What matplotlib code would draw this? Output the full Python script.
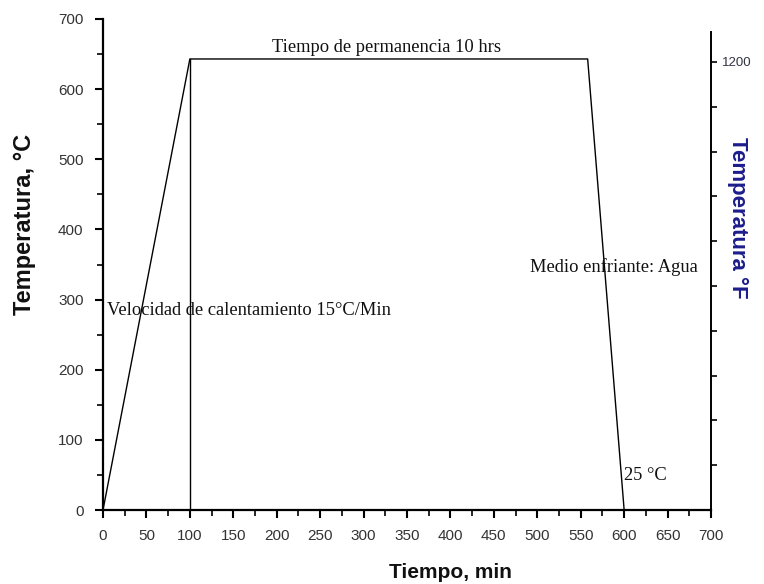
import matplotlib
matplotlib.use("Agg")
import matplotlib.pyplot as plt
from matplotlib.ticker import MultipleLocator, FixedLocator

# ---- data ----
profile_time = [0, 100, 558, 600]        # min
profile_temp = [0, 643, 643, 0]          # °C
hold_start_time = [100, 100]
hold_start_temp = [0, 643]

x_ticks = list(range(0, 701, 50))
y_ticks = list(range(0, 701, 100))
f_ticks = list(range(120, 1201, 120))
f_labels = [""] * 9 + ["1200"]

annotations = [
    ("Tiempo de permanencia 10 hrs", 326, 660, "center"),
    ("Velocidad de calentamiento 15°C/Min", 5, 284, "left"),
    ("Medio enfriante: Agua", 492, 346, "left"),
    ("25 °C", 600, 49, "left"),
]

W, H = 764, 584
fig = plt.figure(figsize=(W / 100, H / 100), dpi=100)
ax = fig.add_axes([103 / W, 1 - 510 / H, (711 - 103) / W, (510 - 19) / H])

ax.plot(profile_time, profile_temp, color="black", lw=1.0)
ax.plot(hold_start_time, hold_start_temp, color="black", lw=1.0)

ax.set_xlim(0, 700)
ax.set_ylim(0, 700)

tick_font = dict(family="Liberation Sans", size=11, color="#333333")

ax.xaxis.set_major_locator(FixedLocator(x_ticks))
ax.xaxis.set_minor_locator(MultipleLocator(25))
ax.yaxis.set_major_locator(FixedLocator(y_ticks))
ax.yaxis.set_minor_locator(MultipleLocator(50))
ax.set_xticklabels([str(v) for v in x_ticks], **tick_font)
ax.set_yticklabels([str(v) for v in y_ticks], **tick_font)

ax.tick_params(which="major", direction="out", length=6, width=1.5, pad=8)
ax.tick_params(which="minor", direction="out", length=4, width=1.2)

for s in ["top", "right"]:
    ax.spines[s].set_visible(False)
for s in ["left", "bottom"]:
    ax.spines[s].set_linewidth(1.6)

ax2 = ax.twinx()
ax2.set_ylim(0, 1315)
ax2.yaxis.set_major_locator(FixedLocator(f_ticks))
ax2.set_yticklabels(f_labels, family="Liberation Sans", size=9.5, color="#333344")
ax2.tick_params(direction="out", length=4, width=1.2, pad=4)
for s in ["top", "left", "bottom"]:
    ax2.spines[s].set_visible(False)
ax2.spines["right"].set_linewidth(1.4)
ax2.spines["right"].set_bounds(0, 1280)

for txt, x, y, ha in annotations:
    ax.text(x, y, txt, ha=ha, va="center", family="Liberation Serif", size=13.3, color="#111111")

fig.text(25 / W, 1 - 224 / H, "Temperatura, °C", rotation=90, ha="center", va="center",
         family="Liberation Sans", weight="bold", size=17, color="#111111")
fig.text(738 / W, 1 - 218 / H, "Temperatura °F", rotation=270, ha="center", va="center",
         family="Liberation Sans", weight="bold", size=16, color="#1c1c8c")
fig.text(450 / W, 1 - 573 / H, "Tiempo, min", ha="center", va="center",
         family="Liberation Sans", weight="bold", size=15, color="#111111")

fig.savefig("out.png", dpi=100)
